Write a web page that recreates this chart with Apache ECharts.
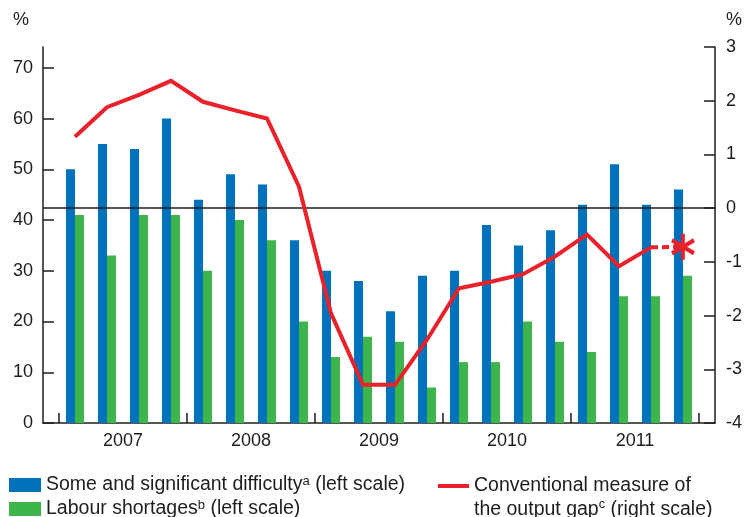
<!DOCTYPE html>
<html>
<head>
<meta charset="utf-8">
<script src="https://cdn.jsdelivr.net/npm/echarts@6/dist/echarts.min.js"></script>
<style>html,body{margin:0;padding:0;background:#fff}#c{width:747px;height:517px}</style>
</head>
<body>
<div id="c"></div>
<script>
const years = ['2007', '2008', '2009', '2010', '2011'];
const difficulty = [50, 55, 54, 60, 44, 49, 47, 36, 30, 28, 22, 29, 30, 39, 35, 38, 43, 51, 43, 46];
const shortages = [41, 33, 41, 41, 30, 40, 36, 20, 13, 17, 16, 7, 12, 12, 20, 16, 14, 25, 25, 29];
const outputGap = [1.33, 1.88, 2.11, 2.37, 1.98, 1.82, 1.67, 0.40, -1.96, -3.29, -3.29, -2.45, -1.49, -1.37, -1.23, -0.90, -0.49, -1.08, -0.73, -0.72];
const estimateStart = 18; // index where the dashed (estimated) part starts
const leftTicks = [0, 10, 20, 30, 40, 50, 60, 70];
const rightTicks = [-4, -3, -2, -1, 0, 1, 2, 3];
const names = {
  d: 'Some and significant difficulty',
  s: 'Labour shortages',
  g: 'Conventional measure of the output gap'
};

const RED = '#e8212b', BLUE = '#0071bb', GREEN = '#3db54b', INK = '#1f1c1d';
const FONT = 'Liberation Sans';
const nQ = years.length * 4;
const yearTicks = years.map((y, i) => i * 4 + 0.5).concat([nQ + 0.5]);
const yearLabels = years.map((y, i) => i * 4 + 2.5);

const chart = echarts.init(document.getElementById('c'));
const asterisk = 'path://M0,-13L0,13M-11.26,-6.5L11.26,6.5M-11.26,6.5L11.26,-6.5';
const rich1 = {
  t: { fontSize: 19.5, fontFamily: FONT, color: INK, lineHeight: 20 },
  sup: { fontSize: 13, fontFamily: FONT, color: INK, verticalAlign: 'top', lineHeight: 20, padding: [0, 0, 4, 0] }
};
const rich2 = {
  t: { fontSize: 19.5, fontFamily: FONT, color: INK, lineHeight: 24 },
  sup: { fontSize: 13, fontFamily: FONT, color: INK, verticalAlign: 'top', lineHeight: 24, padding: [0, 0, 4, 0] }
};
chart.setOption({
  animation: false,
  textStyle: { fontFamily: FONT, color: INK },
  grid: { left: 43, right: 32, top: 47, bottom: 94 },
  xAxis: {
    type: 'value', min: 0, max: nQ + 1,
    axisLine: { lineStyle: { color: INK, width: 1.5 } },
    axisTick: { inside: true, length: 10, lineStyle: { color: INK, width: 1.5 }, customValues: yearTicks },
    axisLabel: {
      customValues: yearLabels, fontSize: 18, color: INK, margin: 9,
      formatter: v => years[Math.floor((v - 0.5) / 4)]
    },
    splitLine: { show: false }
  },
  yAxis: [{
    type: 'value', min: 0, max: 74.1,
    name: '%', nameLocation: 'end', nameGap: 18,
    nameTextStyle: { fontSize: 18, color: INK, align: 'right', padding: [0, 14, 0, 0] },
    axisLine: { show: true, lineStyle: { color: INK, width: 1.5 } },
    axisTick: { show: true, inside: true, length: 11, lineStyle: { color: INK, width: 1.5 }, customValues: leftTicks },
    axisLabel: { customValues: leftTicks, fontSize: 18, color: INK, margin: 10 },
    splitLine: { show: false }
  }, {
    type: 'value', min: -4, max: 3, interval: 1, position: 'right',
    name: '%', nameLocation: 'end', nameGap: 18,
    nameTextStyle: { fontSize: 18, color: INK, align: 'left', padding: [0, 0, 0, 11] },
    axisLine: { show: true, lineStyle: { color: INK, width: 1.5 } },
    axisTick: { show: true, inside: true, length: 11, lineStyle: { color: INK, width: 1.5 }, customValues: rightTicks },
    axisLabel: { customValues: rightTicks, fontSize: 18, color: INK, margin: 11 },
    splitLine: { show: false }
  }],
  legend: [{
    data: [names.d, names.s],
    orient: 'vertical', left: 9, top: 475, height: 60, padding: 0,
    itemWidth: 32, itemHeight: 14, itemGap: 4, icon: 'rect',
    textStyle: { rich: rich1 },
    formatter: n => n === names.d ? '{t|' + n + '}{sup|a}{t| (left scale)}' : '{t|' + n + '}{sup|b}{t| (left scale)}'
  }, {
    data: [names.g],
    orient: 'vertical', left: 438, top: 476, height: 80, padding: 0,
    itemWidth: 31, itemHeight: 4, icon: 'rect',
    textStyle: { rich: rich2, padding: [24, 0, 0, 0] },
    formatter: () => '{t|Conventional measure of}\n{t|the output gap}{sup|c}{t| (right scale)}'
  }],
  series: [{
    name: names.d, type: 'bar', barWidth: 9, barGap: '0%',
    itemStyle: { color: BLUE },
    data: difficulty.map((v, i) => [i + 1, v])
  }, {
    name: names.s, type: 'bar', barWidth: 9, barGap: '0%',
    itemStyle: { color: GREEN },
    data: shortages.map((v, i) => [i + 1, v])
  }, {
    name: names.g, type: 'line', yAxisIndex: 1, symbol: 'none', z: 5,
    itemStyle: { color: RED },
    lineStyle: { color: RED, width: 4, join: 'miter' },
    data: outputGap.slice(0, estimateStart + 1).map((v, i) => [i + 1, v]),
    markLine: {
      silent: true, symbol: 'none', z: 4, label: { show: false },
      lineStyle: { color: INK, width: 1.5, type: 'solid' },
      data: [{ yAxis: 0 }]
    }
  }, {
    name: 'estimate', type: 'line', yAxisIndex: 1, z: 5,
    symbol: (v, p) => p.dataIndex === 0 ? 'none' : asterisk,
    symbolSize: [22, 26],
    itemStyle: { color: RED, borderColor: RED, borderWidth: 4 },
    lineStyle: { color: RED, width: 4, type: [7, 4] },
    data: outputGap.slice(estimateStart).map((v, i) => [i + 1 + estimateStart, v])
  }]
});
</script>
</body>
</html>
